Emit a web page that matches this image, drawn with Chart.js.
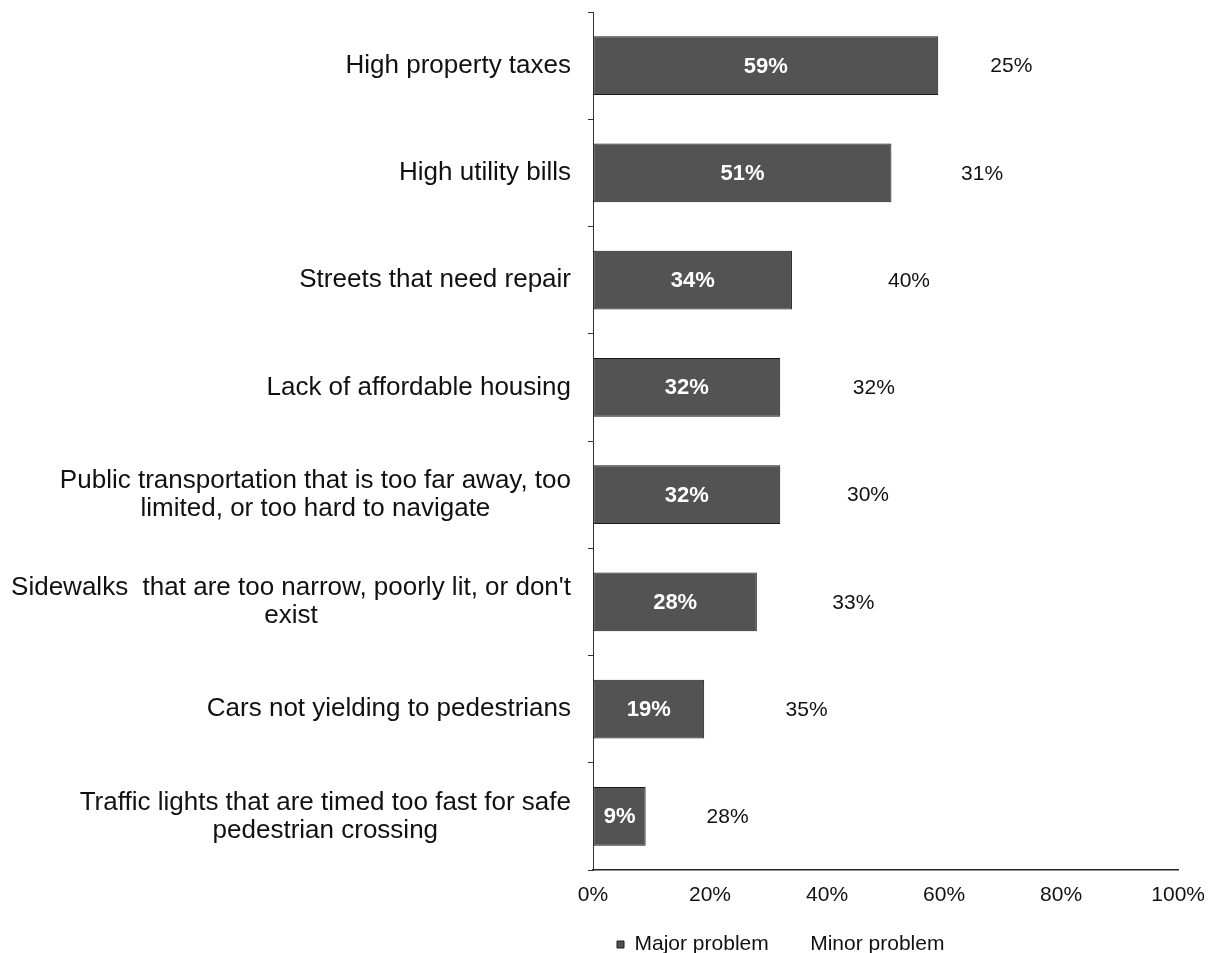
<!DOCTYPE html>
<html lang="en">
<head>
<meta charset="utf-8">
<title>Community problems</title>
<script src="https://cdn.jsdelivr.net/npm/chart.js@4.4.1/dist/chart.umd.min.js"></script>
<style>
    html, body { margin: 0; padding: 0; background: #fff; }
    #problemsChart { display: block; }
</style>
</head>
<body>
<canvas id="problemsChart" width="1218" height="953"></canvas>
<script>
// --- 1. Data ---
const categories = [
    'High property taxes',
    'High utility bills',
    'Streets that need repair',
    'Lack of affordable housing',
    ['Public transportation that is too far away, too', 'limited, or too hard to navigate'],
    ["Sidewalks  that are too narrow, poorly lit, or don't", 'exist'],
    'Cars not yielding to pedestrians',
    ['Traffic lights that are timed too fast for safe', 'pedestrian crossing']
];
const majorProblem = [59, 51, 34, 32, 32, 28, 19, 9];
const minorProblem = [25, 31, 40, 32, 30, 33, 35, 28];
const xTicks = [0, 20, 40, 60, 80, 100];

const FONT = '"Liberation Sans", Arial, sans-serif';
const INK = '#111';

// --- 2. Plugins ---
// Category names: each label is right-aligned as a block, its lines centred on each other
const categoryLabels = {
    id: 'categoryLabels',
    afterDraw(chart) {
        const { ctx } = chart;
        const yScale = chart.scales.y;
        const rightEdge = chart.chartArea.left - 22;
        const lineHeight = 28;
        ctx.save();
        ctx.font = `26px ${FONT}`;
        ctx.fillStyle = INK;
        ctx.textBaseline = 'middle';
        ctx.textAlign = 'center';
        chart.data.labels.forEach((label, i) => {
            const lines = Array.isArray(label) ? label : [label];
            const widest = Math.max(...lines.map(l => ctx.measureText(l).width));
            const cx = rightEdge - widest / 2;
            const cy = yScale.getPixelForTick(i);
            const top = cy - (lines.length - 1) * lineHeight / 2;
            lines.forEach((line, j) => ctx.fillText(line, cx, top + j * lineHeight));
        });
        ctx.restore();
    }
};

// Percent values written in the middle of every bar segment
const valueLabels = {
    id: 'valueLabels',
    afterDatasetsDraw(chart) {
        const { ctx } = chart;
        ctx.save();
        ctx.textAlign = 'center';
        ctx.textBaseline = 'middle';
        chart.data.datasets.forEach((ds, d) => {
            const meta = chart.getDatasetMeta(d);
            ctx.font = d === 0 ? `bold 22px ${FONT}` : `21px ${FONT}`;
            ctx.fillStyle = d === 0 ? '#fff' : INK;
            meta.data.forEach((bar, i) => {
                const x = (bar.x + bar.base) / 2;
                ctx.fillText(ds.data[i] + '%', x, bar.y + 1);
            });
        });
        ctx.restore();
    }
};

// --- 3. Chart ---
new Chart(document.getElementById('problemsChart'), {
    type: 'bar',
    data: {
        labels: categories,
        datasets: [
            {
                label: 'Major problem',
                data: majorProblem,
                backgroundColor: '#535353',
                borderColor: '#1a1a1a',
                borderWidth: 1,
                borderSkipped: false,
                barPercentage: 0.55,
                categoryPercentage: 1
            },
            {
                label: 'Minor problem',
                data: minorProblem,
                backgroundColor: 'rgba(255, 255, 255, 0)',
                borderWidth: 0,
                barPercentage: 0.55,
                categoryPercentage: 1
            }
        ]
    },
    options: {
        indexAxis: 'y',
        responsive: false,
        animation: false,
        events: [],
        layout: { padding: { left: 0, right: 34, top: 12, bottom: 0 } },
        scales: {
            x: {
                stacked: true,
                min: 0,
                max: 100,
                afterBuildTicks: (scale) => { scale.ticks = xTicks.map(v => ({ value: v })); },
                afterFit: (scale) => { scale.height = 40; },
                grid: { drawOnChartArea: false, drawTicks: false, color: '#222' },
                border: { display: true, color: '#222', width: 1.5 },
                ticks: {
                    padding: 13,
                    color: INK,
                    font: { family: FONT, size: 21 },
                    callback: (value) => value + '%'
                }
            },
            y: {
                stacked: true,
                afterFit: (scale) => { scale.width = 593; },
                grid: { drawOnChartArea: false, drawTicks: true, tickLength: 5, color: '#333', offset: true },
                border: { display: true, color: '#333', width: 1 },
                ticks: { display: false }
            }
        },
        plugins: {
            legend: {
                display: true,
                position: 'bottom',
                align: 'start',
                fullSize: false,
                maxHeight: 43,
                labels: {
                    boxWidth: 7,
                    boxHeight: 7,
                    padding: 24,
                    color: INK,
                    font: { family: FONT, size: 21 }
                }
            },
            tooltip: { enabled: false }
        }
    },
    plugins: [categoryLabels, valueLabels]
});
</script>
</body>
</html>
